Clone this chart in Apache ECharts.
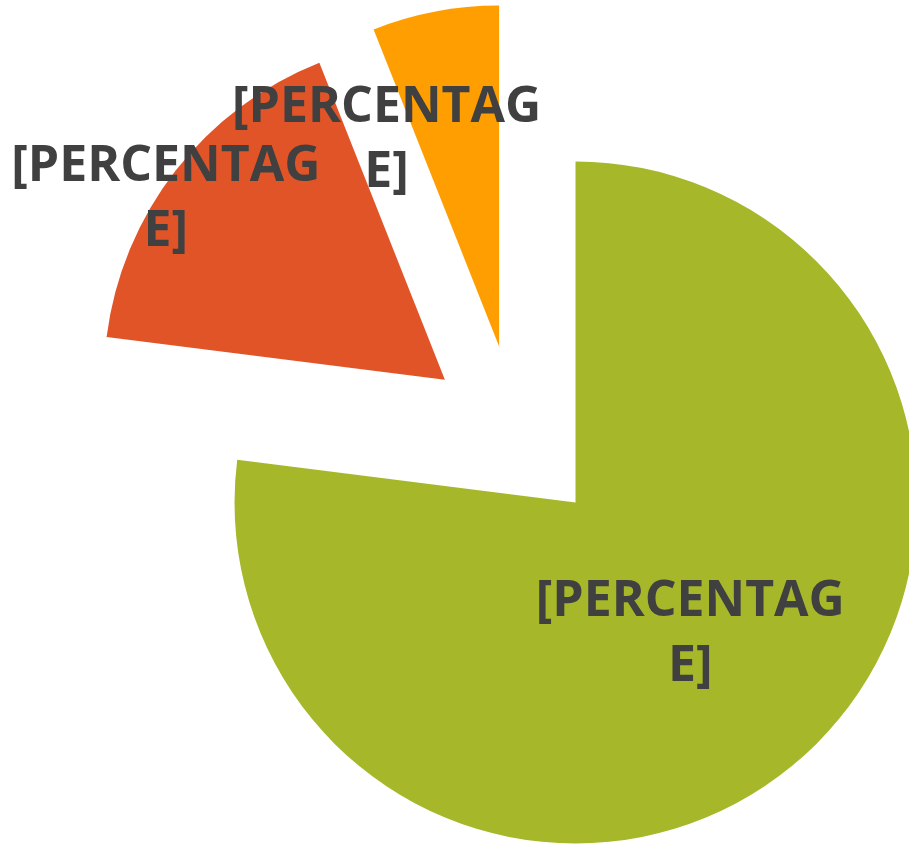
<!DOCTYPE html>
<html>
<head>
<meta charset="utf-8">
<style>
  html, body { margin: 0; padding: 0; background: #ffffff; }
  #chart { width: 909px; height: 845px; }
</style>
<script src="https://cdn.jsdelivr.net/npm/echarts@6/dist/echarts.min.js"></script>
</head>
<body>
<div id="chart"></div>
<script>
// Data
const categories = ['A', 'B', 'C'];
const values = [77, 17, 6];
const labelTexts = ['[PERCENTAG\nE]', '[PERCENTAG\nE]', '[PERCENTAG\nE]'];
const colors = ['#A6B82A', '#E05428', '#FF9E00'];
const labelShifts = [[0, 2], [-142, -74], [-80, -36]];

const chart = echarts.init(document.getElementById('chart'), null, { renderer: 'canvas' });

const data = categories.map((c, i) => ({
  name: c,
  value: values[i],
  selected: true,
  itemStyle: { color: colors[i] },
  label: { formatter: labelTexts[i] }
}));

chart.setOption({
  animation: false,
  series: [{
    type: 'pie',
    center: [516, 435],
    radius: [0, 341],
    startAngle: 90,
    clockwise: true,
    selectedMode: 'multiple',
    selectedOffset: 90,
    avoidLabelOverlap: false,
    minShowLabelAngle: 0,
    itemStyle: { borderWidth: 0 },
    label: {
      show: true,
      position: 'inside',
      color: '#404040',
      fontFamily: 'Open Sans',
      fontWeight: 'bold',
      fontSize: 50,
      lineHeight: 65,
      align: 'center'
    },
    labelLayout: function (p) {
      const s = labelShifts[p.dataIndex];
      return { dx: s[0], dy: s[1], hideOverlap: false };
    },
    labelLine: { show: false },
    emphasis: { disabled: true },
    data: data
  }]
});
</script>
</body>
</html>
